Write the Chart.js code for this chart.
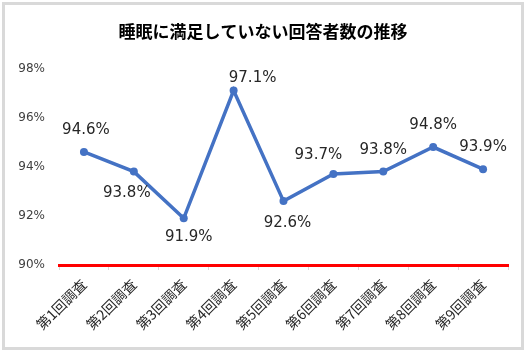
<!DOCTYPE html>
<html>
<head>
<meta charset="utf-8">
<script src="https://cdn.jsdelivr.net/npm/chart.js@4/dist/chart.umd.min.js"></script>
<style>
  body { margin: 0; background: #fff; }
  #wrap { position: relative; width: 526px; height: 353px; }
  #frame { position: absolute; left: 2px; top: 2px; width: 516px; height: 342px; border: 3px solid #d9d9d9; pointer-events: none; }
</style>
</head>
<body>
<div id="wrap">
  <canvas id="box" width="526" height="353"></canvas>
  <div id="frame"></div>
</div>
<script>
var titleText = '睡眠に満足していない回答者数の推移';
var labels = ['第1回調査', '第2回調査', '第3回調査', '第4回調査', '第5回調査', '第6回調査', '第7回調査', '第8回調査', '第9回調査'];
var values = [94.6, 93.8, 91.9, 97.1, 92.6, 93.7, 93.8, 94.8, 93.9];
var yTicks = [90, 92, 94, 96, 98];

// where each value label sits relative to its point (dx, dy)
var labelOffsets = [[2, -22], [-7, 21], [5, 19], [19, -12], [4, 22], [-15, -19], [0, -22], [0, -22], [0, -22]];

var valueLabels = {
    id: 'valueLabels',
    afterDatasetsDraw: function (chart) {
        var ctx = chart.ctx;
        var meta = chart.getDatasetMeta(0);
        ctx.save();
        ctx.font = '15px "DejaVu Sans"';
        ctx.fillStyle = '#262626';
        ctx.textAlign = 'center';
        ctx.textBaseline = 'middle';
        meta.data.forEach(function (pt, i) {
            var off = labelOffsets[i];
            ctx.fillText(values[i].toFixed(1) + '%', pt.x + off[0], pt.y + off[1]);
        });
        ctx.restore();
    }
};

var mychart = new Chart('box', {
    type: 'line',
    data: {
        labels: labels,
        datasets: [{
            data: values,
            borderColor: '#4472C4',
            backgroundColor: '#4472C4',
            borderWidth: 3.5,
            pointRadius: 4,
            pointBorderWidth: 0,
            fill: false,
            tension: 0
        }]
    },
    options: {
        responsive: false,
        animation: false,
        layout: { padding: 0 },
        plugins: {
            legend: { display: false },
            tooltip: { enabled: false },
            title: {
                display: true,
                text: titleText,
                color: '#000',
                font: { family: '"Noto Sans CJK JP"', size: 17, weight: 'bold' },
                padding: { top: 21, bottom: 27 }
            }
        },
        scales: {
            x: {
                offset: true,
                afterFit: function (axis) { axis.height = 88; },
                grid: { offset: true, drawOnChartArea: false, color: '#d9d9d9', tickLength: 5 },
                border: { display: true, color: '#ff0000', width: 3 },
                ticks: {
                    minRotation: 45, maxRotation: 45,
                    color: '#262626', padding: 6,
                    font: { family: '"Noto Sans CJK JP"', size: 14 }
                }
            },
            y: {
                min: 90, max: 98,
                afterBuildTicks: function (axis) {
                    axis.ticks = yTicks.map(function (v) { return { value: v }; });
                },
                afterFit: function (axis) { axis.width = 59; },
                grid: { display: false },
                border: { display: false },
                ticks: {
                    color: '#404040', padding: 6,
                    font: { family: '"DejaVu Sans"', size: 12 },
                    callback: function (v) { return v + '%'; }
                }
            },
            // empty right margin so the title stays centred on the page
            yRight: {
                position: 'right',
                afterFit: function (axis) { axis.width = 18; },
                grid: { display: false },
                border: { display: false },
                ticks: { display: false }
            }
        }
    },
    plugins: [valueLabels]
});
</script>
</body>
</html>
